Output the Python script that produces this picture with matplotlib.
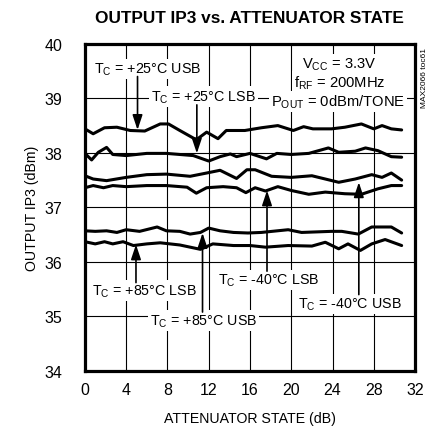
import matplotlib
matplotlib.use("Agg")
import matplotlib.pyplot as plt
from matplotlib import font_manager

# -------------------------
# fonts
# -------------------------

def pick(names):
    for n in names:
        try:
            font_manager.findfont(n, fallback_to_default=False)
            return n
        except Exception:
            pass
    return "DejaVu Sans"

FONT = pick(["Liberation Sans Narrow", "Liberation Sans"])
plt.rcParams["font.family"] = [FONT, "DejaVu Sans"]
plt.rcParams["mathtext.fontset"] = "custom"
plt.rcParams["mathtext.rm"] = FONT
plt.rcParams["mathtext.it"] = FONT

# -------------------------
# data
# -------------------------

x_25usb = [0, 0.8, 1.9, 3.1, 4.4, 5.8, 7.3, 8.1, 9.2, 10.8, 11.8, 12.9, 13.7, 15.5,
           17.1, 18.7, 20.2, 21.2, 22.1, 23.9, 25.2, 26.8, 28.0, 28.8, 29.7, 30.7]
y_25usb = [38.44, 38.35, 38.46, 38.47, 38.41, 38.40, 38.53, 38.53, 38.41, 38.24, 38.38,
           38.26, 38.41, 38.41, 38.46, 38.50, 38.41, 38.48, 38.44, 38.44, 38.47, 38.53,
           38.44, 38.50, 38.44, 38.42]

x_25lsb = [0, 0.65, 1.3, 2.1, 2.7, 4.0, 6.0, 7.9, 9.2, 10.5, 12.0, 13.1, 14.1, 14.7, 16.0,
           17.6, 18.6, 20.0, 21.7, 23.6, 24.6, 26.2, 27.2, 28.4, 29.7, 30.7]
y_25lsb = [37.99, 37.87, 38.01, 38.10, 37.97, 37.95, 37.99, 37.99, 37.97, 37.95, 37.85,
           37.93, 37.98, 37.93, 37.99, 37.89, 37.99, 37.97, 37.99, 38.09, 38.01, 38.03,
           38.09, 38.04, 37.93, 37.92]

x_m40usb = [0, 0.8, 2.1, 4.0, 6.0, 7.9, 10.2, 11.8, 13.1, 14.7, 15.7, 16.5, 18.1, 20.0,
            22.0, 24.6, 26.2, 27.8, 28.8, 29.7, 30.7]
y_m40usb = [37.58, 37.52, 37.49, 37.55, 37.60, 37.61, 37.57, 37.63, 37.68, 37.53, 37.69,
            37.69, 37.57, 37.55, 37.58, 37.46, 37.52, 37.60, 37.55, 37.63, 37.50]

x_m40lsb = [0, 0.8, 1.8, 2.7, 4.0, 6.0, 7.9, 9.9, 10.8, 11.8, 13.4, 14.7, 15.6, 16.5,
            17.5, 18.7, 20.0, 21.7, 23.3, 25.2, 26.8, 28.4, 29.7, 30.7]
y_m40lsb = [37.36, 37.40, 37.36, 37.40, 37.38, 37.40, 37.40, 37.37, 37.26, 37.36, 37.38,
            37.36, 37.27, 37.36, 37.30, 37.38, 37.31, 37.24, 37.28, 37.25, 37.24, 37.34,
            37.40, 37.40]

x_85usb = [0, 1.0, 2.1, 3.1, 4.0, 5.3, 7.0, 7.9, 9.2, 10.2, 11.2, 12.0, 13.1, 14.4, 15.8,
           17.1, 19.7, 21.0, 23.9, 24.9, 26.5, 27.8, 29.7, 30.7]
y_85usb = [36.57, 36.56, 36.57, 36.54, 36.59, 36.56, 36.64, 36.57, 36.56, 36.51, 36.54,
           36.62, 36.57, 36.54, 36.53, 36.54, 36.59, 36.54, 36.56, 36.56, 36.51, 36.64,
           36.64, 36.53]

x_85lsb = [0, 1.0, 1.9, 2.7, 3.7, 4.7, 6.0, 7.3, 9.2, 11.2, 12.4, 14.4, 16.0, 17.5, 19.7,
           22.0, 23.3, 24.6, 25.5, 26.7, 27.8, 29.1, 30.7]
y_85lsb = [36.37, 36.33, 36.37, 36.33, 36.37, 36.30, 36.33, 36.35, 36.31, 36.23, 36.33,
           36.30, 36.30, 36.27, 36.30, 36.29, 36.36, 36.24, 36.33, 36.21, 36.33, 36.41,
           36.30]

x_ticks = [0, 4, 8, 12, 16, 20, 24, 28, 32]
y_ticks = [34, 35, 36, 37, 38, 39, 40]

# label text, label position, arrow tail, arrow tip
labels = [
    ("T$_\\mathregular{C}$ = +25°C USB", (6.05, 39.54), (5.1, 39.40), (5.1, 38.42)),
    ("T$_\\mathregular{C}$ = +25°C LSB", (11.5, 39.03), (10.85, 38.88), (10.85, 37.99)),
    ("T$_\\mathregular{C}$ = +85°C LSB", (5.75, 35.47), (4.95, 35.62), (4.95, 36.32)),
    ("T$_\\mathregular{C}$ = +85°C USB", (11.5, 34.92), (11.4, 35.08), (11.4, 36.53)),
    ("T$_\\mathregular{C}$ = -40°C LSB", (17.8, 35.67), (17.65, 35.83), (17.65, 37.31)),
    ("T$_\\mathregular{C}$ = -40°C USB", (25.65, 35.23), (26.55, 35.40), (26.55, 37.46)),
]

# -------------------------
# plot
# -------------------------

fig = plt.figure(figsize=(4.31, 4.35), dpi=100)
ax = fig.add_axes([0.197, 0.145, 0.766, 0.752])

series = [(x_25usb, y_25usb), (x_25lsb, y_25lsb), (x_m40usb, y_m40usb),
          (x_m40lsb, y_m40lsb), (x_85usb, y_85usb), (x_85lsb, y_85lsb)]
for xs, ys in series:
    ax.plot(xs, ys, color="black", lw=2.2, solid_joinstyle="round",
            solid_capstyle="round", zorder=3)

ax.set_xlim(0, 32)
ax.set_ylim(34, 40)
ax.set_xticks(x_ticks)
ax.set_yticks(y_ticks)
ax.grid(True, color="black", lw=0.8, zorder=0)
ax.tick_params(length=0, labelsize=11.5)
ax.tick_params(axis="y", pad=16)
ax.tick_params(axis="x", pad=8)
for s in ax.spines.values():
    s.set_linewidth(2.3)
    s.set_zorder(5)

ax.set_xlabel("ATTENUATOR STATE (dB)", fontsize=10.2, labelpad=10)
ax.set_ylabel("OUTPUT IP3 (dBm)", fontsize=10.2, labelpad=4)
fig.text(0.578, 0.958, "OUTPUT IP3 vs. ATTENUATOR STATE", ha="center", va="center",
         fontsize=12.4, fontweight="bold")

box = dict(facecolor="white", edgecolor="none", pad=1.5)
for txt, pos, tail, tip in labels:
    ax.text(pos[0], pos[1], txt, ha="center", va="center", fontsize=10.3,
            bbox=box, zorder=4)
    ax.annotate("", xy=tip, xytext=tail,
                arrowprops=dict(arrowstyle="-|>,head_length=0.9,head_width=0.3",
                                color="black", lw=1.2, shrinkA=0, shrinkB=0),
                zorder=4)

ax.text(24.6, 39.63, "V$_\\mathregular{CC}$ = 3.3V", ha="center", va="center",
        fontsize=10.6, bbox=box, zorder=4)
ax.text(24.7, 39.30, "f$_\\mathregular{RF}$ = 200MHz", ha="center", va="center",
        fontsize=10.6, bbox=box, zorder=4)
ax.text(24.5, 38.94, "P$_\\mathregular{OUT}$ = 0dBm/TONE", ha="center", va="center",
        fontsize=10.6, bbox=box, zorder=4)

fig.text(0.986, 0.82, "MAX2066 toc61", rotation=90, ha="center", va="center",
         fontsize=6)

fig.savefig("out.png", dpi=100)
